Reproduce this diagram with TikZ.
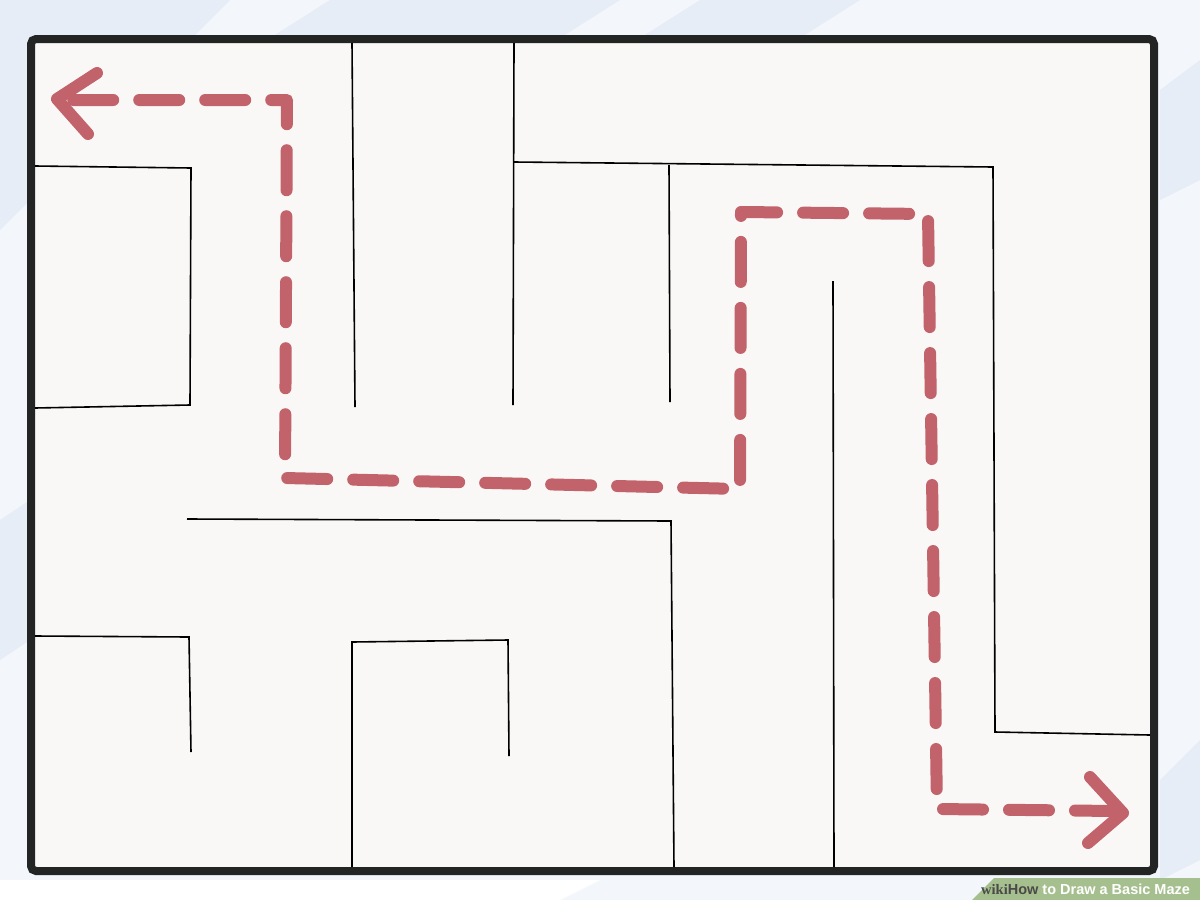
\documentclass[tikz,border=0pt]{standalone}
\usepackage{fontspec}
\setmainfont{Liberation Sans}
\newfontfamily\wikiserif{Liberation Serif}
\definecolor{bgblue}{HTML}{F3F6FA}
\definecolor{stripe}{HTML}{E6EDF6}
\definecolor{paper}{HTML}{F9F8F6}
\definecolor{frame}{HTML}{222524}
\definecolor{pathred}{HTML}{C2626A}
\definecolor{wikigreen}{HTML}{A6BF8E}
\definecolor{wikigray}{HTML}{4A4A48}
\tikzset{
  wall/.style={line width=1.6pt, black, line join=miter},
  route/.style={line width=12pt, pathred, line cap=round, line join=round, dash pattern=on 40pt off 26pt},
  tiphead/.style={line width=12pt, pathred, line cap=round, line join=round},
}
\begin{document}
\begin{tikzpicture}[x=1pt,y=-1pt]
\useasboundingbox (0,0) rectangle (1200,900);
% background
\fill[bgblue] (0,0) rectangle (1200,900);
\fill[stripe] (0,0) -- (230,0) -- (0,230) -- cycle;
\fill[stripe] (330,0) -- (620,0) -- (560,38) -- (270,38) -- cycle;
\fill[stripe] (700,0) -- (860,0) -- (800,38) -- (640,38) -- cycle;
\fill[stripe] (1160,90) -- (1200,60) -- (1200,180) -- (1160,200) -- cycle;
\fill[stripe] (0,520) -- (30,500) -- (30,640) -- (0,660) -- cycle;
\fill[stripe] (1160,780) -- (1200,740) -- (1200,860) -- (1160,880) -- cycle;
\fill[white] (0,880) -- (600,880) -- (560,900) -- (0,900) -- cycle;
% paper and frame
\draw[frame, line width=8pt, fill=paper, rounded corners=5pt] (31,39) rectangle (1154,871);
% maze walls
\draw[wall] (352,43) -- (355,407);
\draw[wall] (514,43) -- (513,405);
\draw[wall] (514,162) -- (993,167) -- (995,732) -- (1150,735);
\draw[wall] (669,165) -- (670,402);
\draw[wall] (35,166) -- (191,168) -- (190,405) -- (35,408);
\draw[wall] (833,281) -- (834,867);
\draw[wall] (187,519) -- (671,521) -- (674,867);
\draw[wall] (35,636) -- (189,637) -- (191,752);
\draw[wall] (352,867) -- (352,642) -- (508,640) -- (509,756);
% route
\coordinate (start) at (72,100);
\coordinate (c1) at (287,100);
\coordinate (c2) at (285,478);
\coordinate (c3) at (740,489);
\coordinate (c4) at (741,212);
\coordinate (c5) at (928,214);
\coordinate (c6) at (937,809);
\coordinate (goal) at (1115,811);
\draw[route] (goal) -- (c6) -- (c5) -- (c4) -- (c3) -- (c2) -- (c1) -- (start);
\draw[tiphead] (97,73) -- (57,99) -- (88,134);
\draw[tiphead] (1090,777) -- (1123,813) -- (1088,843);
% watermark
\fill[wikigreen] (972,900) -- (994,878) -- (1200,878) -- (1200,900) -- cycle;
\node[anchor=west, inner sep=0pt] (wm) at (981,889) {\fontsize{14.5pt}{15pt}\selectfont{\wikiserif\bfseries\color{wikigray}wiki}{\bfseries\color{wikigray}How}\textcolor{white}{\bfseries\ to Draw a Basic Maze}};
\end{tikzpicture}
\end{document}
